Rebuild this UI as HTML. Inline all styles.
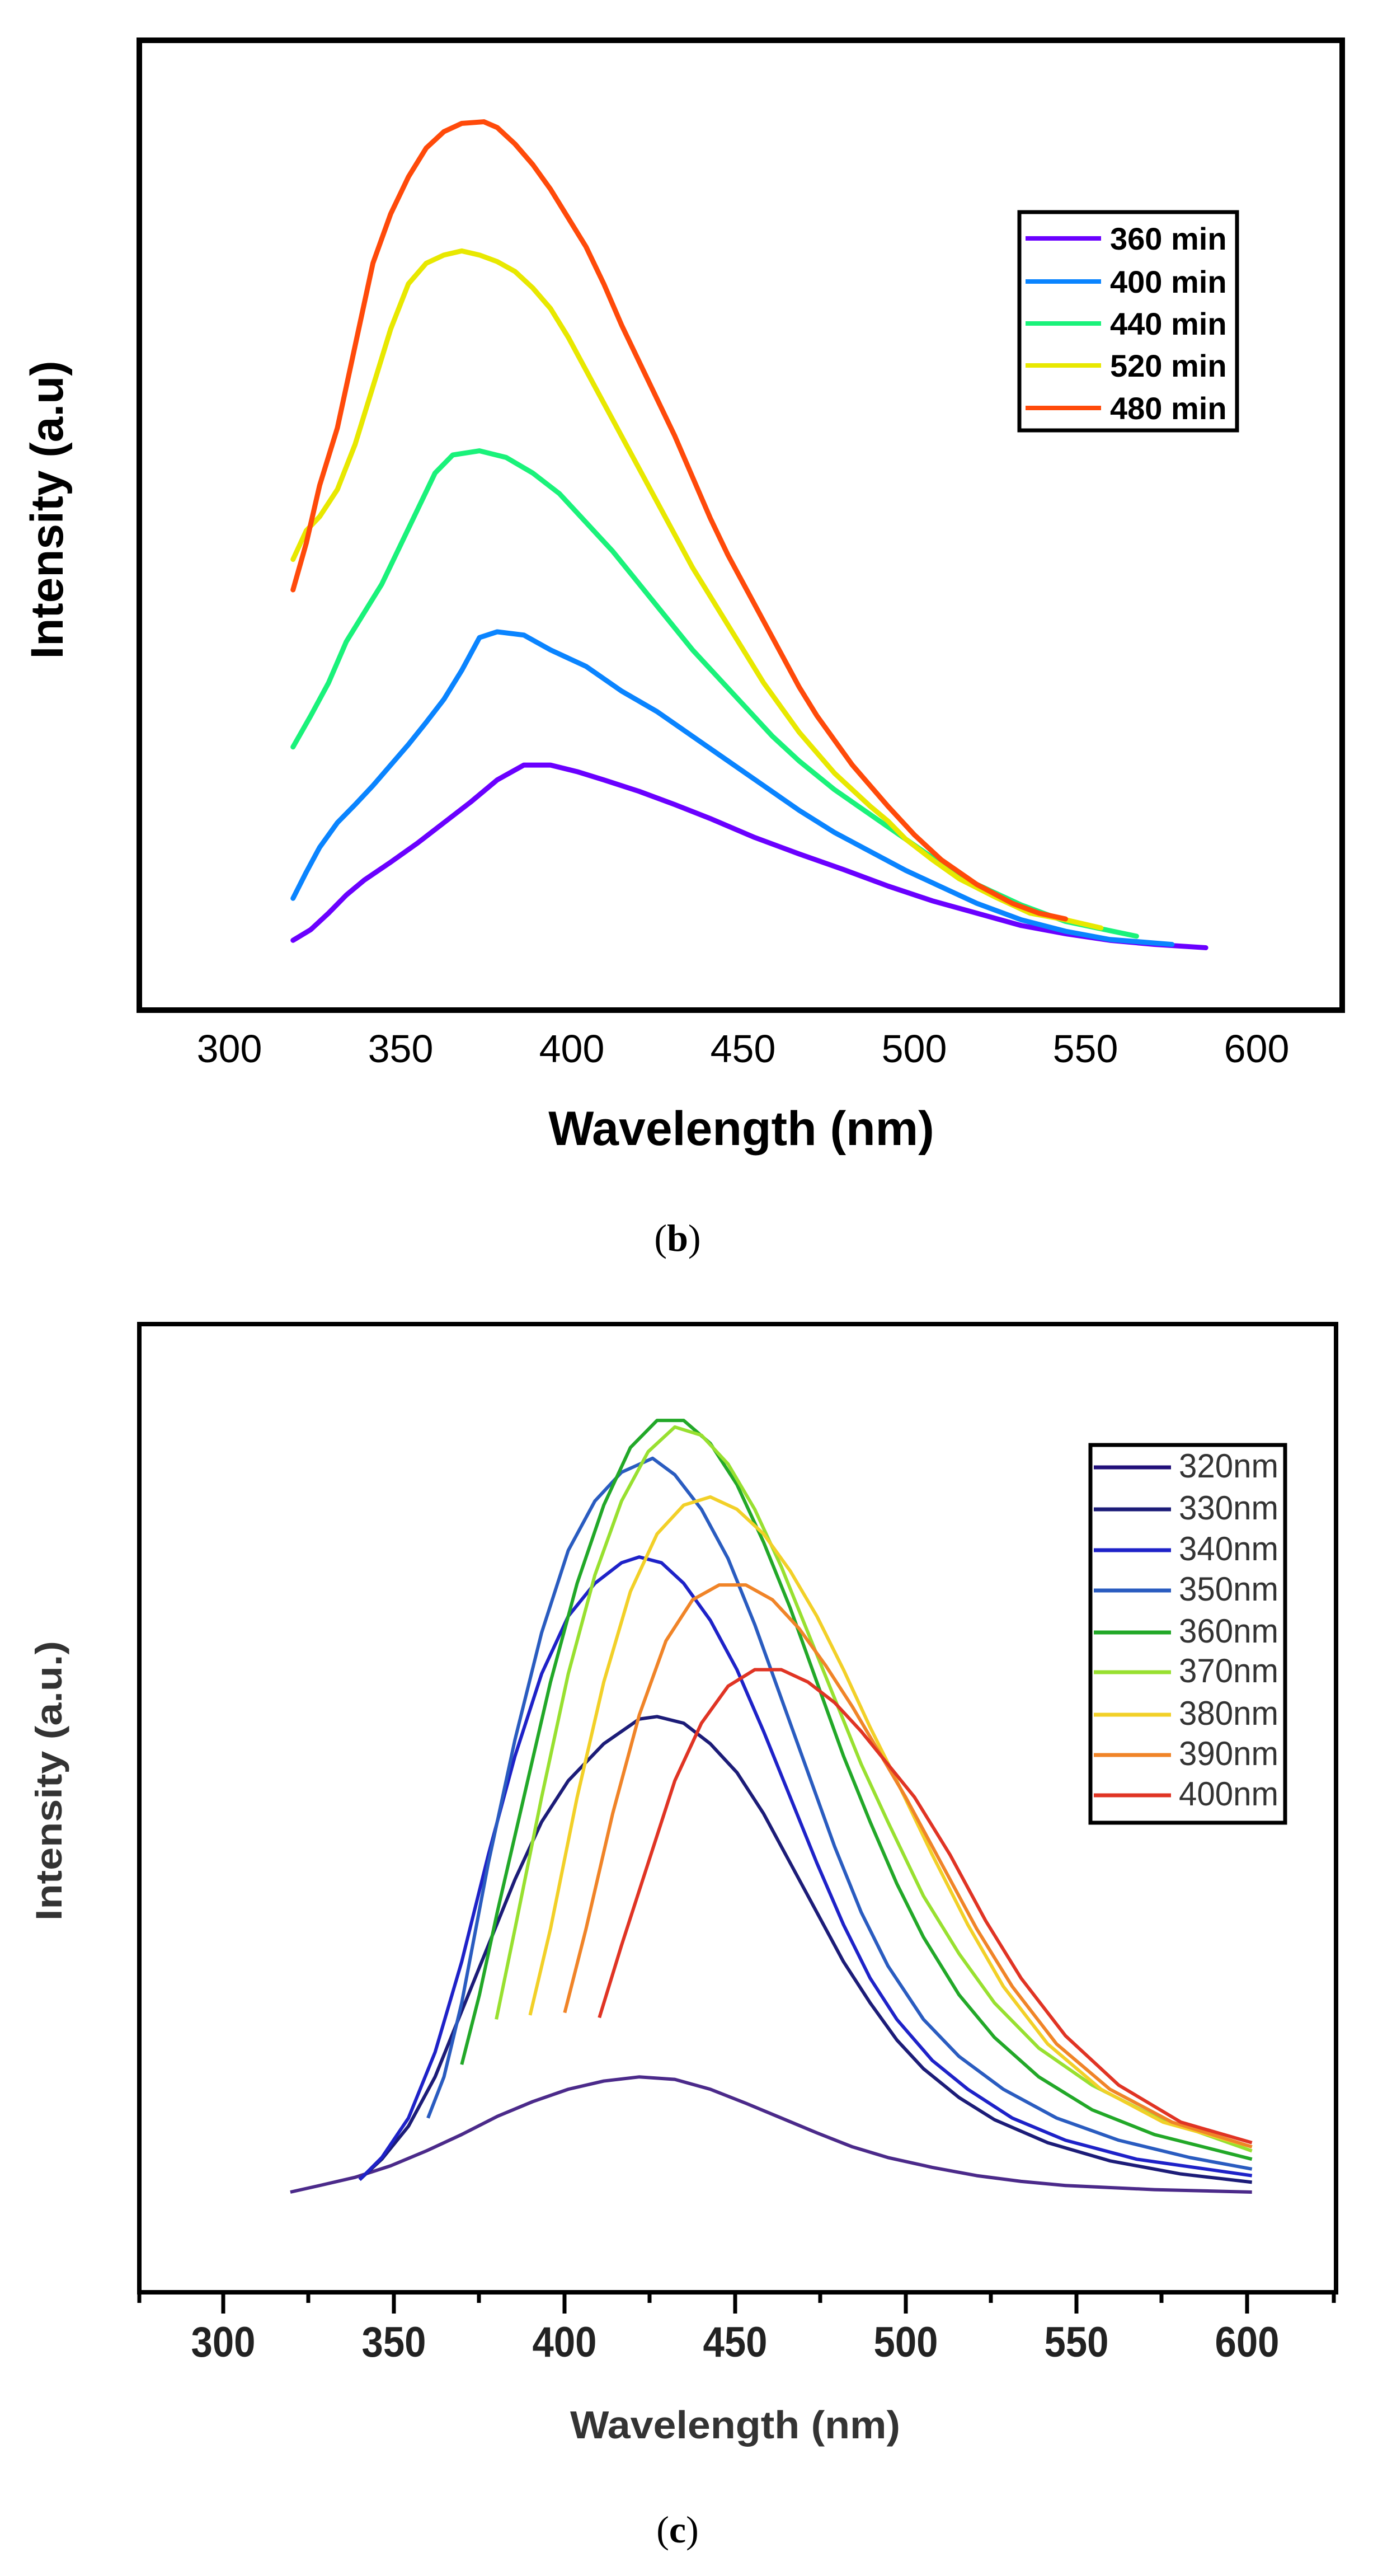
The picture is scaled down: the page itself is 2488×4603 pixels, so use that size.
<!DOCTYPE html>
<html><head><meta charset="utf-8"><style>
html,body{margin:0;padding:0;background:#fff;}
svg{display:block;}
</style></head><body>
<svg width="2488" height="4603" viewBox="0 0 2488 4603" xmlns="http://www.w3.org/2000/svg" font-family="Liberation Sans, Arial, sans-serif">
<rect width="2488" height="4603" fill="#fff"/>
<!-- ===== Plot b ===== -->
<rect x="249" y="72" width="2150" height="1733" fill="none" stroke="#000" stroke-width="10"/>
<g fill="none" stroke-width="9" stroke-linejoin="round" stroke-linecap="round">
<g transform="matrix(1.587,0,0,1.47,0,0)">
<polyline vector-effect="non-scaling-stroke" stroke="#6a00ff" points="330,1143 350,1130 370,1110 390,1088 410,1070 440,1048 470,1025 500,1000 530,975 560,948 590,930 620,930 650,938 680,948 720,962 760,978 800,995 850,1018 900,1038 950,1057 1000,1077 1050,1095 1100,1110 1150,1125 1200,1135 1250,1143 1300,1148 1358,1152"/>
<polyline vector-effect="non-scaling-stroke" stroke="#0a84ff" points="330,1092 345,1060 360,1030 380,1000 400,978 420,955 440,930 460,905 480,878 500,850 520,815 540,775 560,768 590,772 620,790 660,810 700,840 740,865 780,895 820,925 860,955 900,985 940,1012 980,1035 1020,1058 1060,1078 1100,1098 1150,1118 1200,1132 1250,1142 1320,1148"/>
<polyline vector-effect="non-scaling-stroke" stroke="#1af27a" points="330,908 350,870 370,830 390,780 410,745 430,710 450,665 470,620 490,575 510,553 540,548 570,556 600,575 630,600 660,635 690,670 720,710 750,750 780,790 810,825 840,860 870,895 900,925 940,960 980,990 1020,1020 1060,1050 1100,1075 1150,1100 1200,1120 1280,1138"/>
<polyline vector-effect="non-scaling-stroke" stroke="#e8e800" points="330,680 345,645 360,628 380,595 400,540 420,470 440,400 460,345 480,320 500,310 520,305 540,310 560,318 580,330 600,350 620,375 640,410 660,450 680,490 700,530 720,570 740,610 760,650 780,690 800,725 820,760 840,795 860,830 880,860 900,890 920,915 940,940 960,960 980,980 1000,998 1020,1020 1050,1045 1080,1068 1120,1090 1160,1110 1200,1118 1240,1128"/>
<polyline vector-effect="non-scaling-stroke" stroke="#ff4a0a" points="330,717 345,660 360,590 380,520 400,420 420,320 440,260 460,215 480,180 500,160 520,150 545,148 560,155 580,175 600,200 620,230 640,265 660,300 680,345 700,395 720,440 740,485 760,530 780,580 800,630 820,675 840,715 860,755 880,795 900,835 920,870 940,900 960,930 980,955 1000,980 1030,1015 1060,1045 1100,1075 1140,1098 1170,1110 1200,1117"/>
</g>
</g>
<rect x="1822" y="379" width="389" height="390" fill="#fff" stroke="#000" stroke-width="7"/>
<g stroke-width="8">
<line x1="1833" y1="426" x2="1968" y2="426" stroke="#6a00ff"/>
<line x1="1833" y1="503" x2="1968" y2="503" stroke="#0a84ff"/>
<line x1="1833" y1="578" x2="1968" y2="578" stroke="#1af27a"/>
<line x1="1833" y1="653" x2="1968" y2="653" stroke="#e8e800"/>
<line x1="1833" y1="729" x2="1968" y2="729" stroke="#ff4a0a"/>
</g>
<g font-size="56" font-weight="bold" fill="#000">
<text x="1984" y="446">360 min</text>
<text x="1984" y="523">400 min</text>
<text x="1984" y="598">440 min</text>
<text x="1984" y="673">520 min</text>
<text x="1984" y="749">480 min</text>
</g>
<g font-size="70" text-anchor="middle" fill="#000">
<text x="410" y="1898">300</text><text x="716" y="1898">350</text><text x="1022" y="1898">400</text>
<text x="1328" y="1898">450</text><text x="1634" y="1898">500</text><text x="1940" y="1898">550</text><text x="2246" y="1898">600</text>
</g>
<text x="1325" y="2046" font-size="86" font-weight="bold" text-anchor="middle">Wavelength (nm)</text>
<text transform="translate(112,911) rotate(-90)" font-size="82" font-weight="bold" text-anchor="middle">Intensity (a.u)</text>
<text x="1211" y="2235" font-size="68" text-anchor="middle" font-family="Liberation Serif, serif">(<tspan font-weight="bold">b</tspan>)</text>

<!-- ===== Plot c ===== -->
<path d="M249 2366 H2388 V4096 H249 Z" fill="none" stroke="#000" stroke-width="8"/>
<g stroke="#000" stroke-width="7">
<line x1="399" y1="4096" x2="399" y2="4134"/><line x1="704" y1="4096" x2="704" y2="4134"/><line x1="1009" y1="4096" x2="1009" y2="4134"/>
<line x1="1314" y1="4096" x2="1314" y2="4134"/><line x1="1619" y1="4096" x2="1619" y2="4134"/><line x1="1924" y1="4096" x2="1924" y2="4134"/><line x1="2229" y1="4096" x2="2229" y2="4134"/>
<line x1="551" y1="4096" x2="551" y2="4115"/><line x1="856" y1="4096" x2="856" y2="4115"/><line x1="1161" y1="4096" x2="1161" y2="4115"/>
<line x1="1466" y1="4096" x2="1466" y2="4115"/><line x1="1771" y1="4096" x2="1771" y2="4115"/><line x1="2076" y1="4096" x2="2076" y2="4115"/>
<line x1="249" y1="4096" x2="249" y2="4115"/><line x1="2384" y1="4096" x2="2384" y2="4115"/>
</g>
<g fill="none" stroke-width="6" stroke-linejoin="round">
<g transform="matrix(1.587,0,0,1.47,0,2300)">
<polyline vector-effect="non-scaling-stroke" stroke="#4b2a8a" points="327,1100 360,1092 400,1082 440,1068 480,1050 520,1030 560,1008 600,990 640,975 680,965 720,960 760,963 800,975 840,992 880,1010 920,1028 960,1045 1000,1058 1050,1070 1100,1080 1150,1087 1200,1092 1300,1097 1410,1100"/>
<polyline vector-effect="non-scaling-stroke" stroke="#1c1c78" points="405,1085 430,1060 460,1020 490,960 520,880 550,800 580,720 610,650 640,600 680,555 720,525 740,522 770,530 800,555 830,590 860,640 890,700 920,760 950,820 980,870 1010,915 1040,950 1080,985 1120,1012 1180,1040 1250,1062 1330,1078 1410,1088"/>
<polyline vector-effect="non-scaling-stroke" stroke="#1e22c8" points="405,1085 430,1058 460,1010 490,930 520,820 550,690 580,570 610,470 640,400 670,360 700,335 720,328 745,335 770,360 800,405 830,465 860,540 890,620 920,700 950,775 980,840 1010,890 1050,940 1090,975 1140,1010 1200,1037 1280,1060 1410,1080"/>
<polyline vector-effect="non-scaling-stroke" stroke="#2a5cc0" points="482,1010 500,960 520,870 550,700 580,550 610,420 640,320 670,260 700,225 735,208 760,228 790,270 820,330 850,410 880,500 910,590 940,680 970,760 1000,825 1040,890 1080,935 1130,975 1190,1010 1260,1037 1340,1058 1410,1072"/>
<polyline vector-effect="non-scaling-stroke" stroke="#22a828" points="520,945 540,860 560,760 590,620 620,480 650,360 680,265 710,195 740,162 770,162 800,190 830,240 860,310 890,390 920,480 950,570 980,650 1010,725 1040,790 1080,860 1120,912 1170,960 1230,1000 1300,1030 1410,1060"/>
<polyline vector-effect="non-scaling-stroke" stroke="#98e030" points="559,890 580,780 610,620 640,470 670,350 700,260 730,200 760,170 790,180 820,215 850,270 880,340 910,420 940,500 970,580 1000,650 1040,740 1080,810 1120,870 1170,925 1230,970 1300,1008 1410,1050"/>
<polyline vector-effect="non-scaling-stroke" stroke="#f2d028" points="597,885 620,780 650,620 680,480 710,370 740,300 770,265 800,255 830,270 860,300 890,345 920,400 950,465 980,535 1010,600 1050,690 1090,775 1130,850 1180,920 1240,975 1310,1015 1410,1045"/>
<polyline vector-effect="non-scaling-stroke" stroke="#f08428" points="636,882 660,780 690,640 720,520 750,430 780,380 810,362 840,362 870,380 900,415 930,460 960,510 990,565 1020,620 1060,700 1100,780 1140,850 1190,920 1250,975 1320,1015 1410,1045"/>
<polyline vector-effect="non-scaling-stroke" stroke="#e03424" points="675,888 700,800 730,700 760,600 790,530 820,485 850,465 880,465 910,480 940,505 970,540 1000,580 1030,620 1070,690 1110,770 1150,840 1200,910 1260,970 1330,1015 1410,1040"/>
</g>
</g>
<rect x="1949" y="2582" width="348" height="675" fill="#fff" stroke="#000" stroke-width="7"/>
<g stroke-width="7">
<line x1="1955" y1="2622" x2="2093" y2="2622" stroke="#22107a"/>
<line x1="1955" y1="2697" x2="2093" y2="2697" stroke="#1c1c78"/>
<line x1="1955" y1="2770" x2="2093" y2="2770" stroke="#1e22c8"/>
<line x1="1955" y1="2842" x2="2093" y2="2842" stroke="#2a5cc0"/>
<line x1="1955" y1="2917" x2="2093" y2="2917" stroke="#22a828"/>
<line x1="1955" y1="2988" x2="2093" y2="2988" stroke="#98e030"/>
<line x1="1955" y1="3064" x2="2093" y2="3064" stroke="#f2d028"/>
<line x1="1955" y1="3136" x2="2093" y2="3136" stroke="#f08428"/>
<line x1="1955" y1="3208" x2="2093" y2="3208" stroke="#e03424"/>
</g>
<g font-size="60" fill="#333">
<text x="2107" y="2640" textLength="178" lengthAdjust="spacingAndGlyphs">320nm</text>
<text x="2107" y="2715" textLength="178" lengthAdjust="spacingAndGlyphs">330nm</text>
<text x="2107" y="2788" textLength="178" lengthAdjust="spacingAndGlyphs">340nm</text>
<text x="2107" y="2860" textLength="178" lengthAdjust="spacingAndGlyphs">350nm</text>
<text x="2107" y="2935" textLength="178" lengthAdjust="spacingAndGlyphs">360nm</text>
<text x="2107" y="3006" textLength="178" lengthAdjust="spacingAndGlyphs">370nm</text>
<text x="2107" y="3082" textLength="178" lengthAdjust="spacingAndGlyphs">380nm</text>
<text x="2107" y="3154" textLength="178" lengthAdjust="spacingAndGlyphs">390nm</text>
<text x="2107" y="3226" textLength="178" lengthAdjust="spacingAndGlyphs">400nm</text>
</g>
<g font-size="76" font-weight="bold" text-anchor="middle" fill="#222">
<text x="399" y="4211" textLength="115" lengthAdjust="spacingAndGlyphs">300</text>
<text x="704" y="4211" textLength="115" lengthAdjust="spacingAndGlyphs">350</text>
<text x="1009" y="4211" textLength="115" lengthAdjust="spacingAndGlyphs">400</text>
<text x="1314" y="4211" textLength="115" lengthAdjust="spacingAndGlyphs">450</text>
<text x="1619" y="4211" textLength="115" lengthAdjust="spacingAndGlyphs">500</text>
<text x="1924" y="4211" textLength="115" lengthAdjust="spacingAndGlyphs">550</text>
<text x="2229" y="4211" textLength="115" lengthAdjust="spacingAndGlyphs">600</text>
</g>
<text x="1314" y="4357" font-size="70" font-weight="bold" text-anchor="middle" fill="#333" textLength="590" lengthAdjust="spacingAndGlyphs">Wavelength (nm)</text>
<text transform="translate(110,3182) rotate(-90)" font-size="66" font-weight="bold" text-anchor="middle" fill="#333" textLength="500" lengthAdjust="spacingAndGlyphs">Intensity (a.u.)</text>
<text x="1211" y="4543" font-size="68" text-anchor="middle" font-family="Liberation Serif, serif">(<tspan font-weight="bold">c</tspan>)</text>
</svg>
</body></html>
